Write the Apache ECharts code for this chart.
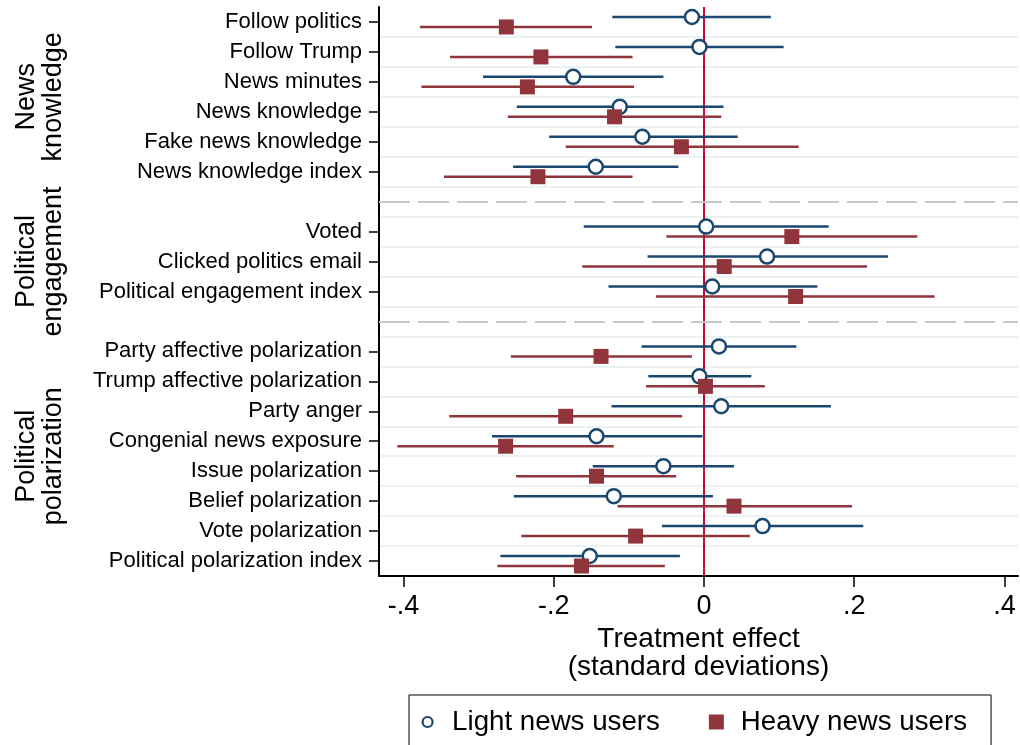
<!DOCTYPE html>
<html>
<head>
<meta charset="utf-8">
<script src="https://cdn.jsdelivr.net/npm/echarts@6/dist/echarts.min.js"></script>
<style>html,body{margin:0;padding:0;background:#fff;}#chart{width:1020px;height:745px;}</style>
</head>
<body>
<div id="chart"></div>
<script>
const categories = ['Follow politics','Follow Trump','News minutes','News knowledge','Fake news knowledge','News knowledge index','_sep1',
  'Voted','Clicked politics email','Political engagement index','_sep2',
  'Party affective polarization','Trump affective polarization','Party anger','Congenial news exposure','Issue polarization','Belief polarization','Vote polarization','Political polarization index'];

const lightEst = [-0.016,-0.006,-0.174,-0.112,-0.082,-0.144,null, 0.003, 0.084, 0.011,null, 0.020,-0.006, 0.023,-0.143,-0.054,-0.120, 0.078,-0.152];
const lightLo  = [-0.122,-0.118,-0.294,-0.249,-0.206,-0.254,null,-0.160,-0.075,-0.127,null,-0.083,-0.074,-0.123,-0.282,-0.148,-0.253,-0.056,-0.271];
const lightHi  = [ 0.089, 0.106,-0.054, 0.026, 0.045,-0.034,null, 0.166, 0.245, 0.151,null, 0.123, 0.063, 0.169,-0.002, 0.040, 0.012, 0.212,-0.032];
const heavyEst = [-0.263,-0.217,-0.235,-0.119,-0.030,-0.221,null, 0.117, 0.027, 0.122,null,-0.137, 0.002,-0.184,-0.264,-0.143, 0.040,-0.091,-0.163];
const heavyLo  = [-0.378,-0.338,-0.376,-0.261,-0.184,-0.346,null,-0.050,-0.162,-0.064,null,-0.257,-0.077,-0.339,-0.408,-0.250,-0.115,-0.243,-0.275];
const heavyHi  = [-0.149,-0.095,-0.093, 0.023, 0.126,-0.095,null, 0.284, 0.217, 0.307,null,-0.016, 0.081,-0.029,-0.120,-0.037, 0.197, 0.061,-0.052];

const xTickValues = [-0.4,-0.2,0,0.2,0.4];
const xTickLabels = ['-.4','-.2','0','.2','.4'];

const groupNames = ['News\nknowledge','Political\nengagement','Political\npolarization'];
const groupFirst = ['Follow politics','Voted','Party affective polarization'];
const groupLast  = ['News knowledge index','Political engagement index','Political polarization index'];

const seriesNames = ['Light news users','Heavy news users'];

const FONT = 'Liberation Sans, Arial, sans-serif';
const NAVY = '#1a476f';
const MAROON = '#90353b';

function pts(est){ const r=[]; est.forEach((v,i)=>{ if(v!==null) r.push([v,i]); }); return r; }
function bars(lo,hi){ const r=[]; lo.forEach((v,i)=>{ if(v!==null) r.push([v,i,hi[i]]); }); return r; }
function barRender(off,color){
  return function(params, api){
    const a = api.coord([api.value(0), api.value(1)]);
    const b = api.coord([api.value(2), api.value(1)]);
    return {type:'line', shape:{x1:a[0], y1:a[1]+off, x2:b[0], y2:b[1]+off}, style:{stroke:color, lineWidth:2.5}};
  };
}

const chart = echarts.init(document.getElementById('chart'), null, {renderer:'canvas'});
const option = {
  animation:false,
  backgroundColor:'#fff',
  textStyle:{fontFamily:FONT},
  grid:{left:379, right:2, top:7, bottom:169, containLabel:false, outerBoundsMode:'none'},
  xAxis:{
    type:'value', min:-0.4325, max:0.418,
    splitLine:{show:false},
    axisLine:{show:true, onZero:false, lineStyle:{color:'#000', width:2}},
    axisTick:{show:true, length:11, lineStyle:{color:'#000', width:1.5}, customValues:xTickValues},
    axisLabel:{customValues:xTickValues, margin:17, fontSize:27, color:'#000', fontFamily:FONT,
      formatter:function(v){ const i = xTickValues.findIndex(t=>Math.abs(t-v)<1e-9); return i>=0?xTickLabels[i]:''; }},
    name:'Treatment effect\n(standard deviations)', nameLocation:'middle', nameGap:45,
    nameTextStyle:{fontSize:28, lineHeight:28, color:'#000', fontFamily:FONT}
  },
  yAxis:{
    type:'category', data:categories, inverse:true, boundaryGap:true,
    axisLine:{show:true, onZero:false, lineStyle:{color:'#000', width:2}},
    axisTick:{show:true, alignWithLabel:true, length:10, lineStyle:{color:'#000', width:1.5},
      interval:function(i,v){ return v.charAt(0)!=='_'; }},
    axisLabel:{interval:0, margin:17, fontSize:22, color:'#000', fontFamily:FONT, padding:[4,0,0,0],
      formatter:function(v){ return v.charAt(0)==='_'?'':v; }},
    splitLine:{show:true, interval:0, showMinLine:false, lineStyle:{color:'#eaf2f3', width:2}}
  },
  legend:{
    left:409, top:695, orient:'horizontal',
    borderColor:'#000', borderWidth:1, padding:[12,24,30,10],
    itemWidth:15, itemHeight:15, itemGap:49,
    textStyle:{fontSize:27.7, lineHeight:30, color:'#000', fontFamily:FONT, padding:[0,0,0,12]},
    data:[
      {name:seriesNames[0], icon:'path://M0,0 M15,15 M12.5,7.5 A5,5 0 1 1 2.5,7.5 A5,5 0 1 1 12.5,7.5 Z', itemStyle:{color:'#fff', borderColor:NAVY, borderWidth:2.2}},
      {name:seriesNames[1], icon:'rect', itemStyle:{color:MAROON, borderWidth:0}}
    ]
  },
  series:[
    {type:'custom', name:'lightCI', data:bars(lightLo,lightHi), encode:{x:[0,2], y:1},
      renderItem:barRender(-5,NAVY), z:2, silent:true},
    {type:'custom', name:'heavyCI', data:bars(heavyLo,heavyHi), encode:{x:[0,2], y:1},
      renderItem:barRender(5,MAROON), z:3, silent:true},
    {type:'scatter', name:seriesNames[0], data:pts(lightEst), symbol:'circle', symbolSize:14, symbolOffset:[0,-5],
      itemStyle:{color:'#fff', borderColor:NAVY, borderWidth:2.5, opacity:1}, z:4,
      markLine:{silent:true, symbol:['none','none'], label:{show:false}, z:1, animation:false,
        data:[
          {xAxis:0, lineStyle:{color:'#c40d35', width:2, type:'solid'}},
          {yAxis:6, lineStyle:{color:'#c8c8c8', width:2, type:[31,8]}},
          {yAxis:10, lineStyle:{color:'#c8c8c8', width:2, type:[31,8]}}
        ]}
    },
    {type:'scatter', name:seriesNames[1], data:pts(heavyEst), symbol:'rect', symbolSize:15, symbolOffset:[0,5],
      itemStyle:{color:MAROON, opacity:1}, z:5}
  ]
};
chart.setOption(option);

const graphics = groupNames.map(function(t,i){
  const y1 = chart.convertToPixel({yAxisIndex:0}, groupFirst[i]);
  const y2 = chart.convertToPixel({yAxisIndex:0}, groupLast[i]);
  return {type:'text', x:40, y:(y1+y2)/2, rotation:Math.PI/2,
    style:{text:t, fontSize:27, lineHeight:27, fontFamily:FONT, fill:'#000', align:'center', verticalAlign:'middle'}};
});
chart.setOption({graphic:graphics});
</script>
</body>
</html>
